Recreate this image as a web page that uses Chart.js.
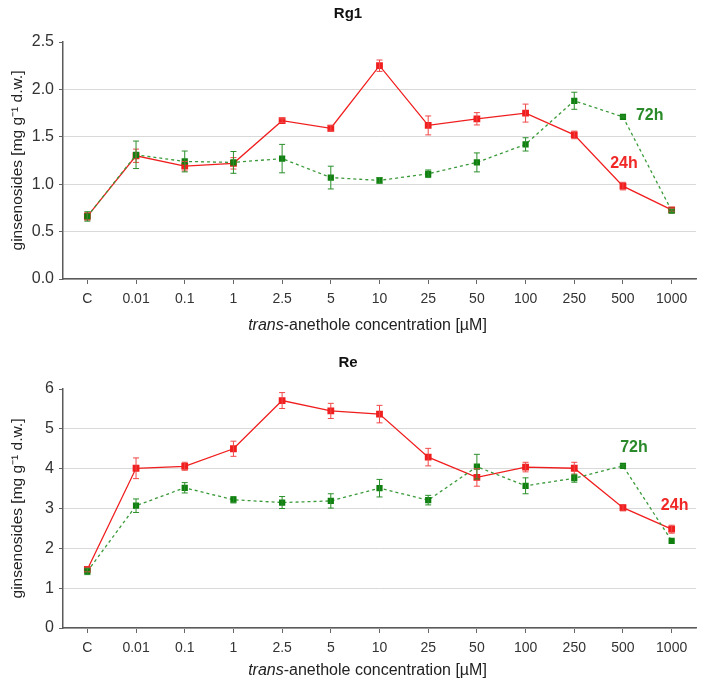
<!DOCTYPE html>
<html>
<head>
<meta charset="utf-8">
<script src="https://cdn.jsdelivr.net/npm/chart.js@4.4.1/dist/chart.umd.min.js"></script>
<style>
  body { margin: 0; background: #fff; }
  .panel { width: 706px; }
</style>
</head>
<body>
<div class="panel" style="height:340px"><canvas id="rg1" width="706" height="340"></canvas></div>
<div class="panel" style="height:349px"><canvas id="re" width="706" height="349"></canvas></div>
<script>
// x categories (trans-anethole concentration, µM)
const concentrations = ['C', '0.01', '0.1', '1', '2.5', '5', '10', '25', '50', '100', '250', '500', '1000'];

// Rg1, mg/g d.w.
const rg1_24h     = [0.66, 1.30, 1.19, 1.22, 1.67, 1.59, 2.25, 1.62, 1.69, 1.75, 1.52, 0.98, 0.73];
const rg1_24h_err = [0.04, 0.07, 0.05, 0.06, 0.02, 0.03, 0.06, 0.10, 0.065, 0.095, 0.04, 0.04, 0.015];
const rg1_72h     = [0.66, 1.31, 1.24, 1.23, 1.27, 1.07, 1.04, 1.11, 1.23, 1.42, 1.88, 1.71, 0.72];
const rg1_72h_err = [0.05, 0.145, 0.11, 0.115, 0.15, 0.12, 0.03, 0.04, 0.10, 0.07, 0.09, 0.01, 0.015];

// Re, mg/g d.w.
const re_24h     = [1.47, 4.01, 4.06, 4.50, 5.71, 5.45, 5.37, 4.29, 3.78, 4.04, 4.01, 3.02, 2.48];
const re_24h_err = [0.06, 0.26, 0.10, 0.19, 0.20, 0.19, 0.22, 0.22, 0.22, 0.12, 0.15, 0.08, 0.10];
const re_72h     = [1.42, 3.07, 3.52, 3.22, 3.15, 3.19, 3.51, 3.21, 4.05, 3.57, 3.76, 4.07, 2.19];
const re_72h_err = [0.08, 0.17, 0.13, 0.08, 0.15, 0.18, 0.22, 0.12, 0.31, 0.20, 0.10, 0.03, 0.0];

const FONT = '"Liberation Sans", Arial, Helvetica, sans-serif';
const RED = '#f01e1e';
const GREEN = '#0f7f0f';

// vertical error bars with caps
const errorBars = {
  id: 'errorBars',
  afterDatasetsDraw(chart) {
    const ctx = chart.ctx;
    const yScale = chart.scales.y;
    chart.data.datasets.forEach((ds, i) => {
      if (!ds.errors) return;
      const meta = chart.getDatasetMeta(i);
      ctx.save();
      ctx.strokeStyle = ds.errorColor;
      ctx.lineWidth = 1;
      meta.data.forEach((pt, j) => {
        const e = ds.errors[j];
        if (!e) return;
        const top = yScale.getPixelForValue(ds.data[j] + e);
        const bot = yScale.getPixelForValue(ds.data[j] - e);
        ctx.beginPath();
        ctx.moveTo(pt.x, top); ctx.lineTo(pt.x, bot);
        ctx.moveTo(pt.x - 3, top); ctx.lineTo(pt.x + 3, top);
        ctx.moveTo(pt.x - 3, bot); ctx.lineTo(pt.x + 3, bot);
        ctx.stroke();
      });
      ctx.restore();
    });
  }
};

// "24h" / "72h" series labels
const seriesLabels = {
  id: 'seriesLabels',
  afterDatasetsDraw(chart, args, opts) {
    const ctx = chart.ctx;
    ctx.save();
    ctx.font = 'bold 16px ' + FONT;
    ctx.textBaseline = 'middle';
    (opts.items || []).forEach(it => {
      ctx.fillStyle = it.color;
      ctx.textAlign = it.align || 'center';
      const x = chart.scales.x.getPixelForValue(it.index) + (it.dx || 0);
      const y = chart.scales.y.getPixelForValue(it.value);
      ctx.fillText(it.text, x, y);
    });
    ctx.restore();
  }
};

// x axis title, "trans" in italics
const xTitle = {
  id: 'xTitle',
  afterDraw(chart, args, opts) {
    const ctx = chart.ctx;
    const area = chart.chartArea;
    const italicPart = 'trans';
    const rest = '-anethole concentration [\u00b5M]';
    ctx.save();
    ctx.fillStyle = '#222';
    ctx.textBaseline = 'middle';
    ctx.textAlign = 'left';
    ctx.font = 'italic 16px ' + FONT;
    const w1 = ctx.measureText(italicPart).width;
    ctx.font = '16px ' + FONT;
    const w2 = ctx.measureText(rest).width;
    let x = (area.left + area.right) / 2 + opts.shift - (w1 + w2) / 2;
    const y = area.bottom + opts.offset;
    ctx.font = 'italic 16px ' + FONT;
    ctx.fillText(italicPart, x, y);
    ctx.font = '16px ' + FONT;
    ctx.fillText(rest, x + w1, y);
    ctx.restore();
  }
};

function makeChart(id, title, titlePad, s24, e24, s72, e72, yMax, yStep, yDigits, labels, xTitleOffset) {
  return new Chart(document.getElementById(id), {
    type: 'line',
    data: {
      labels: concentrations,
      datasets: [
        {
          label: '24h', data: s24, errors: e24, errorColor: '#f04848',
          borderColor: RED, backgroundColor: RED, borderWidth: 1.3,
          pointStyle: 'rect', pointRadius: 4.8, pointBorderWidth: 0,
          tension: 0, order: 2
        },
        {
          label: '72h', data: s72, errors: e72, errorColor: '#2a8f2a',
          borderColor: '#3a9a3a', backgroundColor: GREEN, borderWidth: 1.3,
          borderDash: [3, 3],
          pointStyle: 'rect', pointRadius: 4.4, pointBorderWidth: 0,
          tension: 0, order: 1
        }
      ]
    },
    options: {
      responsive: false,
      animation: false,
      layout: { padding: { left: 0, right: 10, top: 0, bottom: 0 } },
      plugins: {
        legend: { display: false },
        tooltip: { enabled: false },
        title: {
          display: true, text: title, color: '#111',
          font: { family: FONT, size: 15, weight: 'bold' },
          padding: titlePad
        },
        seriesLabels: { items: labels },
        xTitle: { shift: -12, offset: xTitleOffset }
      },
      scales: {
        x: {
          offset: true,
          grid: { drawOnChartArea: false, offset: false, tickLength: 5, tickColor: '#666' },
          border: { color: '#5a5a5a', width: 1.5 },
          ticks: { color: '#333', padding: 7, font: { family: FONT, size: 14 }, maxRotation: 0, autoSkip: false },
          afterFit(scale) { scale.height = 61; }
        },
        y: {
          min: 0, max: yMax,
          grid: {
            color: ctx => (ctx.tick && ctx.tick.value >= yMax) ? 'rgba(0,0,0,0)' : '#d9d9d9',
            tickColor: '#666', tickLength: 4, lineWidth: 1
          },
          border: { color: '#5a5a5a', width: 1.5 },
          ticks: {
            stepSize: yStep, color: '#333', padding: 5,
            font: { family: FONT, size: 16 },
            callback: v => Number(v).toFixed(yDigits)
          },
          title: {
            display: true, text: 'ginsenosides [mg g\u207b\u00b9 d.w.]', color: '#222',
            font: { family: FONT, size: 15.5 }, padding: { top: 8, bottom: 0 }
          },
          afterFit(scale) { scale.width = 63; }
        }
      }
    },
    plugins: [errorBars, seriesLabels, xTitle]
  });
}

makeChart('rg1', 'Rg1', { top: 5, bottom: 19 },
  rg1_24h, rg1_24h_err, rg1_72h, rg1_72h_err, 2.5, 0.5, 1,
  [
    { text: '72h', color: '#2a8a2a', index: 11, value: 1.72, dx: 13, align: 'left' },
    { text: '24h', color: '#f02828', index: 11, value: 1.22, dx: 1, align: 'center' }
  ], 47);

makeChart('re', 'Re', { top: 14, bottom: 17 },
  re_24h, re_24h_err, re_72h, re_72h_err, 6, 1, 0,
  [
    { text: '72h', color: '#2a8a2a', index: 11, value: 4.53, dx: 11, align: 'center' },
    { text: '24h', color: '#f02828', index: 12, value: 3.07, dx: 3, align: 'center' }
  ], 43);
</script>
</body>
</html>
